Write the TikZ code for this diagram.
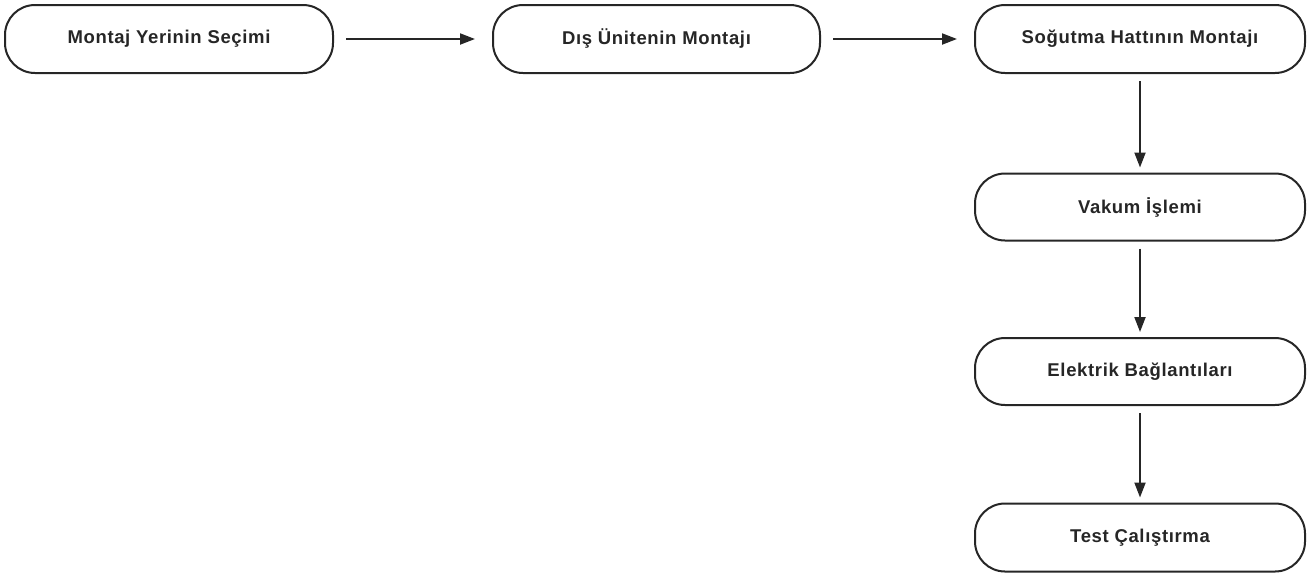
\documentclass[tikz,border=0pt]{standalone}
\usepackage{fontspec}
\setmainfont{Liberation Sans}[LetterSpace=3.5]
\usetikzlibrary{arrows.meta}
\begin{document}
\begin{tikzpicture}[x=1pt,y=-1pt,
  stepbox/.style={draw=black!85, line width=2pt, rounded corners=30pt, fill=white,
    minimum height=68pt, inner sep=0pt, text=black!85,
    font=\fontsize{18.5}{21}\selectfont\bfseries},
  flow/.style={draw=black!85, line width=2pt, -{Triangle[length=15pt,width=11pt]}},
  hflow/.style={flow, shorten <=12pt, shorten >=17pt},
  vflow/.style={flow, shorten <=7pt, shorten >=5pt}]
\useasboundingbox (0,0) rectangle (1311,574);
\node[stepbox, minimum width=328pt] (n1) at (169,39) {Montaj Yerinin Seçimi};
\node[stepbox, minimum width=327pt] (n2) at (656.5,39) {Dış Ünitenin Montajı};
\node[stepbox, minimum width=330pt] (n3) at (1140,39) {Soğutma Hattının Montajı};
\node[stepbox, minimum width=330pt, minimum height=67pt] (n4) at (1140,207) {Vakum İşlemi};
\node[stepbox, minimum width=330pt, minimum height=67pt] (n5) at (1140,371.5) {Elektrik Bağlantıları};
\node[stepbox, minimum width=330pt] (n6) at (1140,537.5) {Test Çalıştırma};
\draw[hflow] (n1) -- (n2);
\draw[hflow] (n2) -- (n3);
\draw[vflow] (n3) -- (n4);
\draw[vflow] (n4) -- (n5);
\draw[vflow] (n5) -- (n6);
\end{tikzpicture}
\end{document}
